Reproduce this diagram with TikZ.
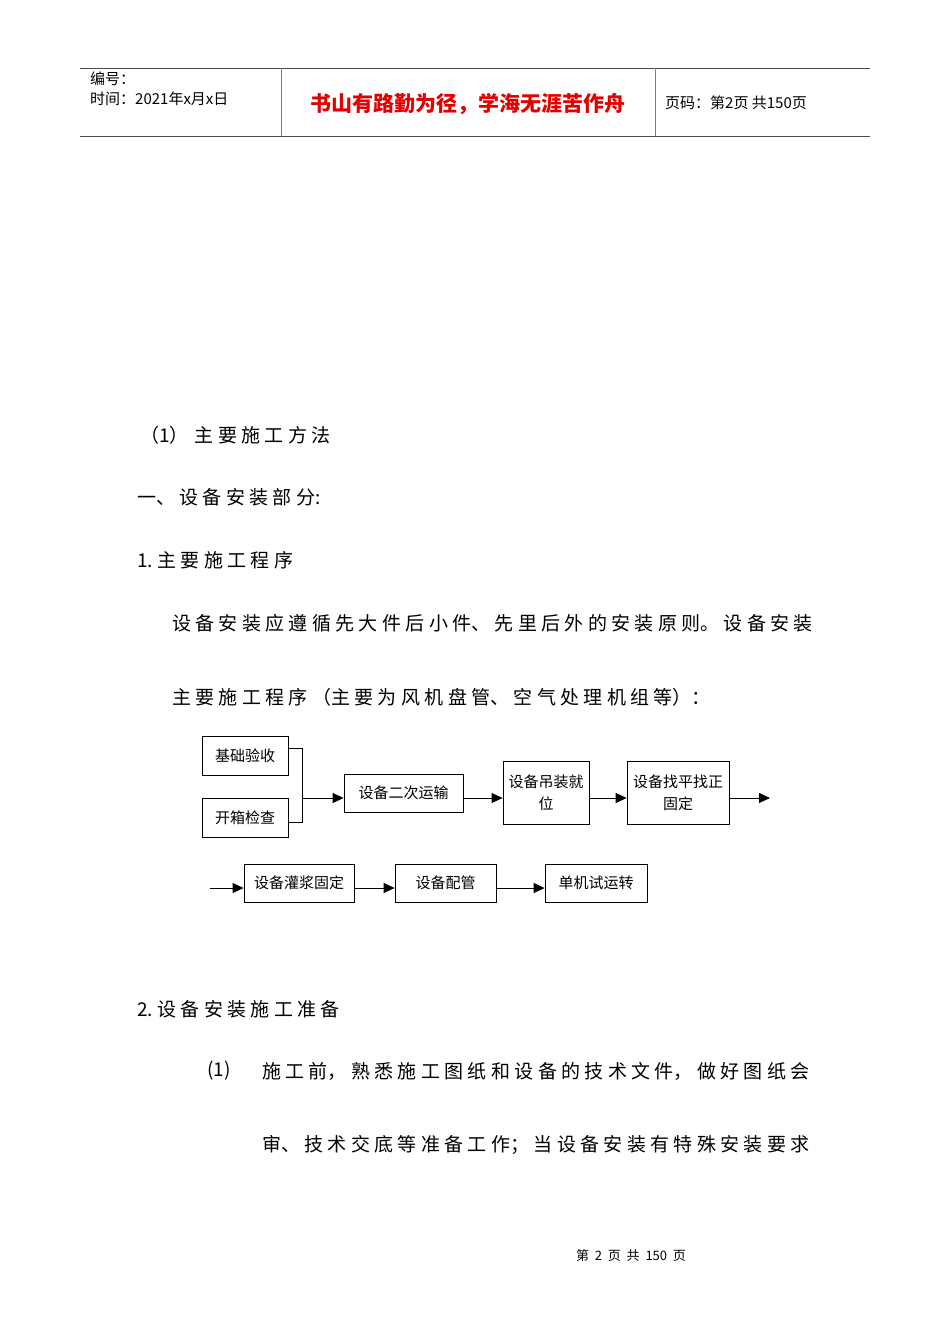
\documentclass[tikz,border=0pt]{standalone}
\usepackage{fontspec}
\usetikzlibrary{arrows.meta}
\setmainfont{Noto Sans CJK SC}
\XeTeXlinebreaklocale "zh"
\begin{document}
\begin{tikzpicture}[x=1pt,y=-1pt,
  body/.style={anchor=west,inner sep=0pt,text width=780pt,align=left,font={\fontsize{19}{20}\selectfont\XeTeXlinebreakskip=4.35pt\relax}},
  fbox/.style={draw,line width=0.8pt,inner sep=0pt,align=center,font={\fontsize{15}{22}\selectfont}},
  arr/.style={line width=0.8pt,-{Triangle[length=11pt,width=10pt]}},
  hdr/.style={anchor=west,inner sep=0pt,font={\fontsize{15}{16}\selectfont}}]
\useasboundingbox (0,0) rectangle (950,1344);
% header
\draw[line width=0.8pt,gray!60!black] (80,68) -- (870,68) (80,136) -- (870,136);
\draw[line width=0.6pt,gray] (281,68) -- (281,136) (655,68) -- (655,136);
\node[hdr] (h1) at (90,79) {编号：};
\node[hdr] (h2) at (90,99) {时间：2021年x月x日};
\node[inner sep=0pt,text=red!90!black,font={\fontsize{21}{22}\selectfont\bfseries}] (h3) at (468,104) {书山有路勤为径，学海无涯苦作舟};
\node[hdr] (h4) at (665,103) {页码：第2页\ 共150页};
% body
\node[body] (t1) at (140,435) {（1）\hspace{6pt}主要施工方法};
\node[body] (t2) at (137,497) {一、设备安装部分:};
\node[body] (t3) at (137,560) {1.主要施工程序};
\node[body] (t4) at (172,623) {设备安装应遵循先大件后小件、先里后外的安装原则。设备安装};
\node[body] (t5) at (172,697) {主要施工程序（主要为风机盘管、空气处理机组等）：};
\node[body] (t6) at (137,1009) {2.设备安装施工准备};
\node[body] (t7) at (207,1071) {(1)};
\node[body] (t8) at (262,1071) {施工前，熟悉施工图纸和设备的技术文件，做好图纸会};
\node[body] (t9) at (262,1145) {审、技术交底等准备工作；当设备安装有特殊安装要求};
\node[inner sep=0pt,font={\fontsize{13}{14}\selectfont}] (ft) at (631,1256) {第\ \ 2\ \ 页\ \ 共\ \ 150\ \ 页};
% flowchart
\node[fbox,minimum width=86pt,minimum height=39pt] (A) at (245,755.5) {基础验收};
\node[fbox,minimum width=86pt,minimum height=39pt] (B) at (245,817.5) {开箱检查};
\node[fbox,minimum width=119pt,minimum height=38pt] (C) at (403.5,793) {设备二次运输};
\node[fbox,minimum width=86pt,minimum height=63pt,text width=86pt] (D) at (546,792.5) {设备吊装就\\位};
\node[fbox,minimum width=102pt,minimum height=63pt,text width=102pt] (E) at (678,792.5) {设备找平找正\\固定};
\coordinate (J) at (302,798);
\coordinate (Eo) at (770,798);
\coordinate (S) at (210,888);
\node[fbox,minimum width=110pt,minimum height=38pt] (F) at (299,883) {设备灌浆固定};
\node[fbox,minimum width=101pt,minimum height=38pt] (G) at (445.5,883) {设备配管};
\node[fbox,minimum width=102pt,minimum height=38pt] (H) at (596,883) {单机试运转};
\draw[line width=0.8pt] (A.east |- 0,748) -- (302,748) -- (302,822) -- (B.east |- 0,822);
\draw[arr] (J) -- (C.west |- J);
\draw[arr] (C.east |- J) -- (D.west |- J);
\draw[arr] (D.east |- J) -- (E.west |- J);
\draw[arr] (E.east |- J) -- (Eo);
\draw[arr] (S) -- (F.west |- S);
\draw[arr] (F.east |- S) -- (G.west |- S);
\draw[arr] (G.east |- S) -- (H.west |- S);
\end{tikzpicture}
\end{document}
